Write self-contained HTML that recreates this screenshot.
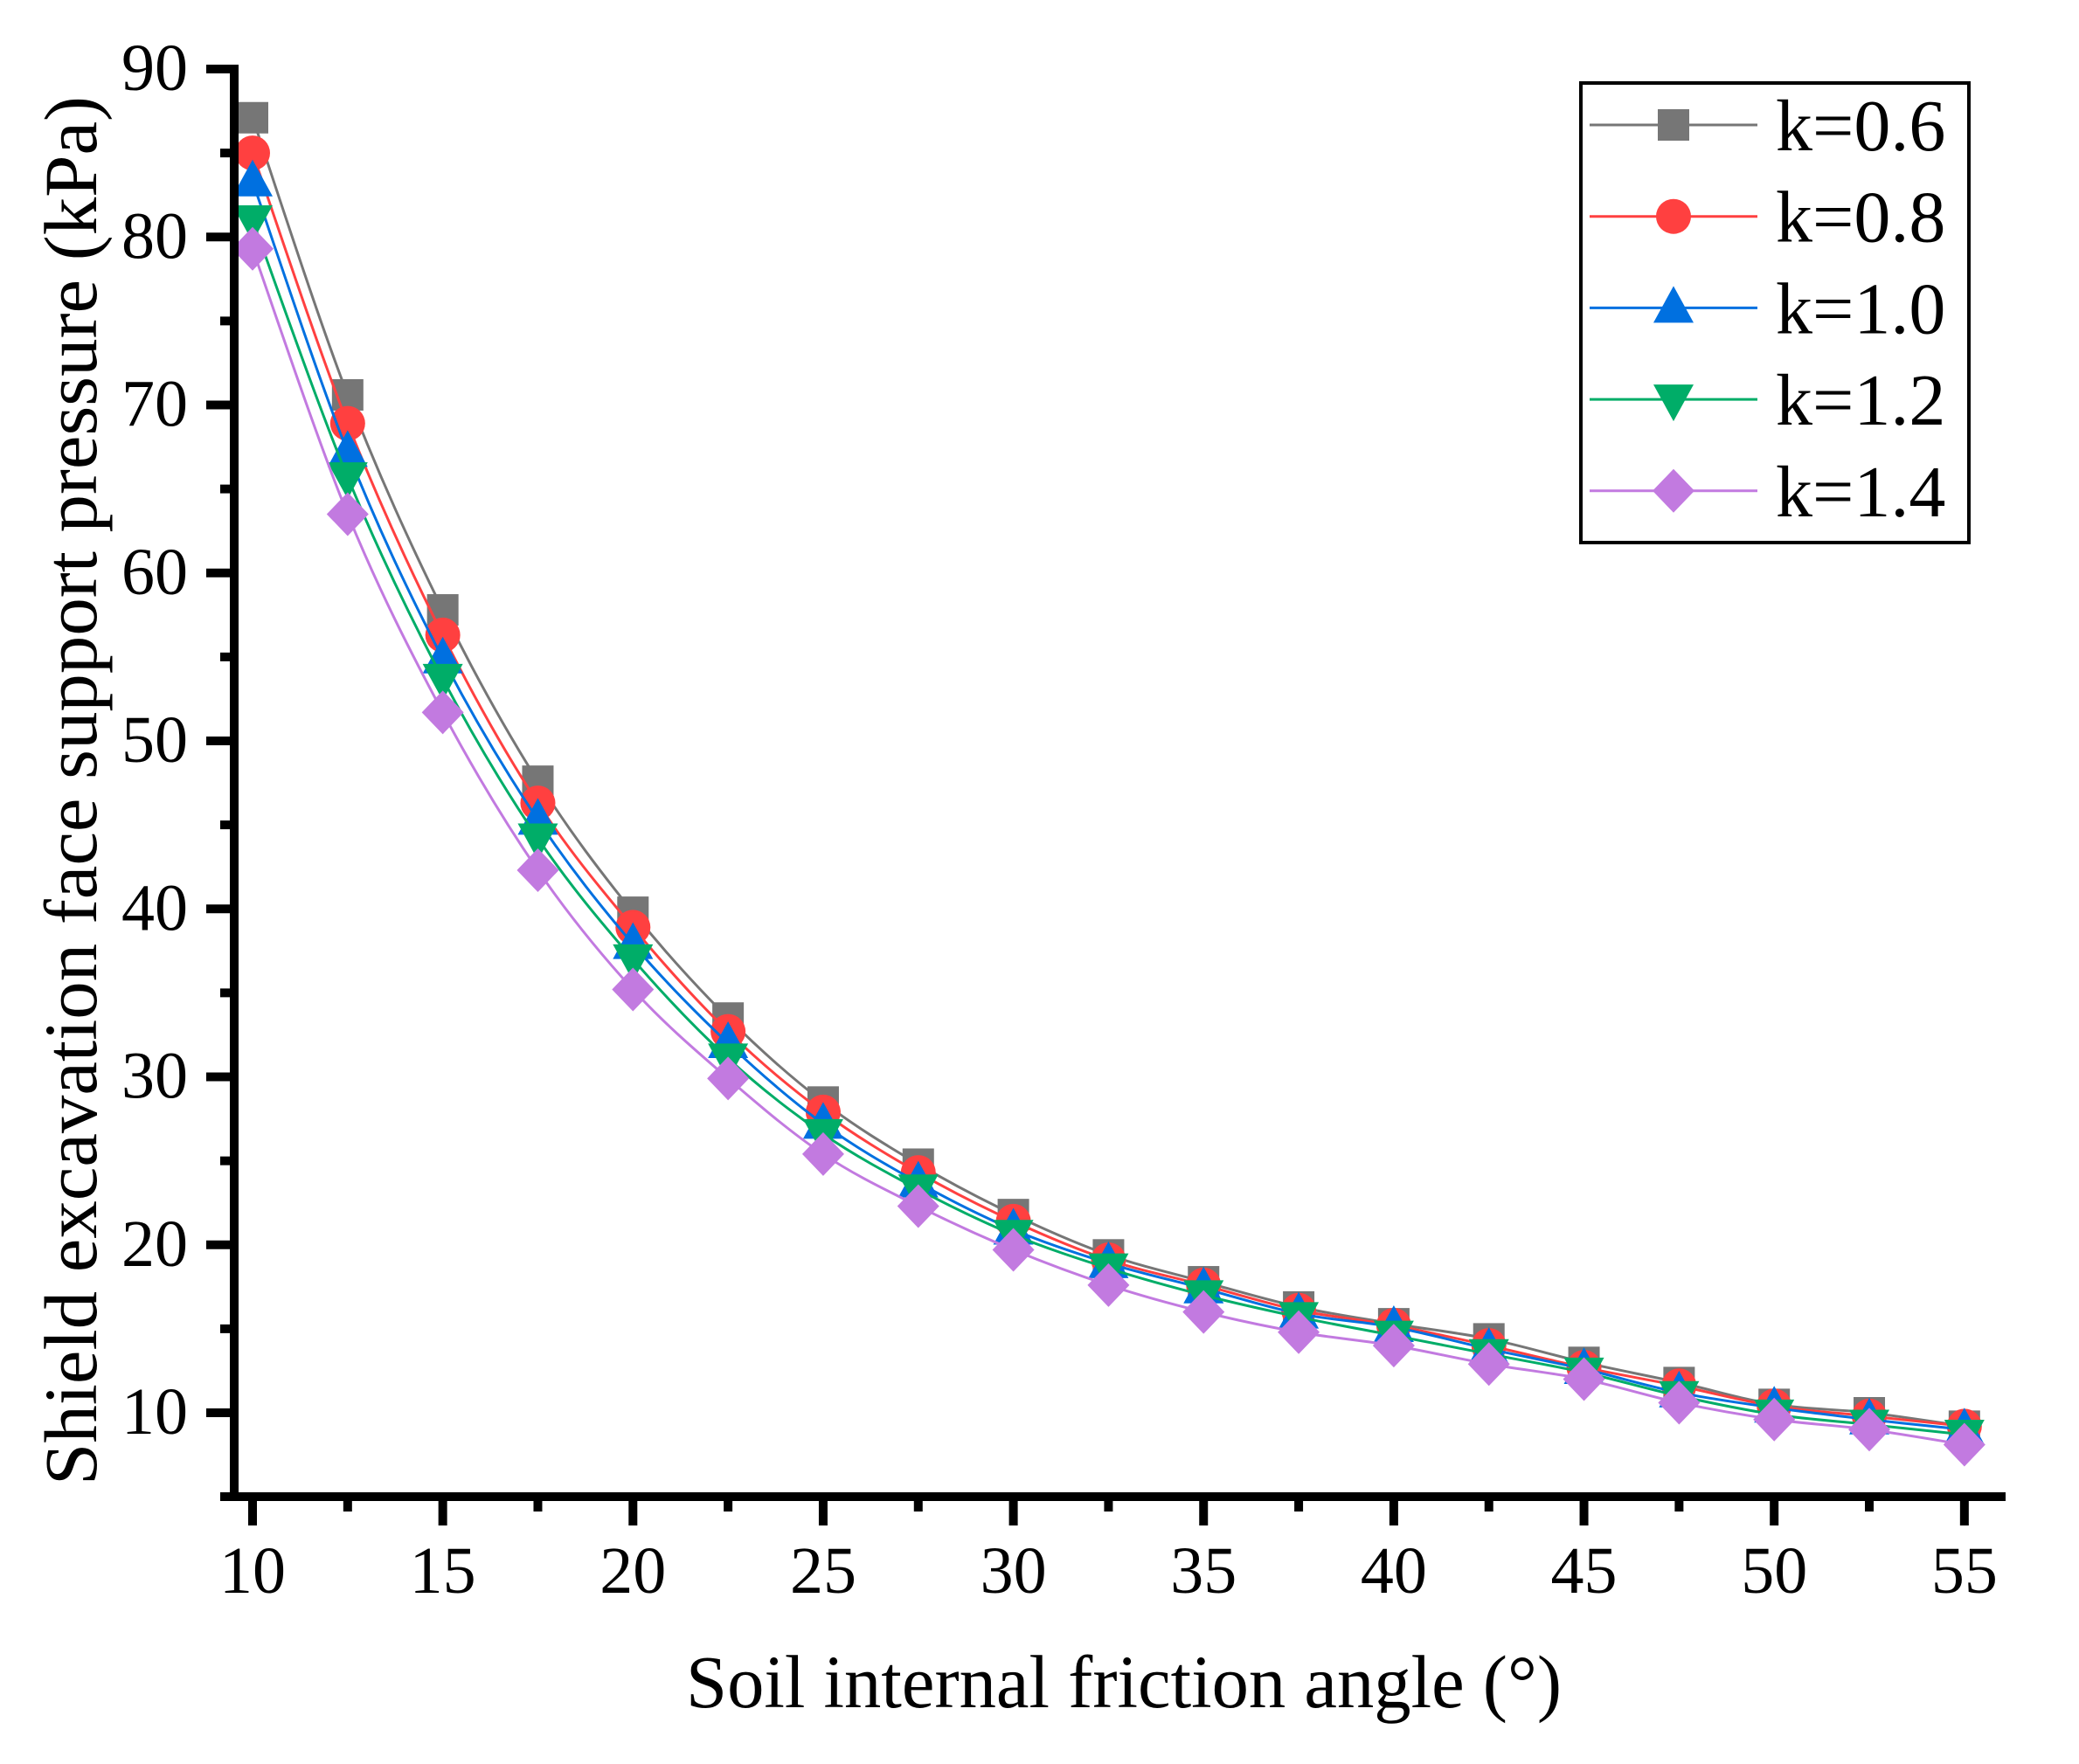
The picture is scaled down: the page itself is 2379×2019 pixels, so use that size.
<!DOCTYPE html>
<html><head><meta charset="utf-8"><style>html,body{margin:0;padding:0;background:#fff}svg{display:block}</style></head>
<body>
<svg id="s" width="2379" height="2019" viewBox="0 0 2379 2019" xmlns="http://www.w3.org/2000/svg" font-family="'Liberation Serif', serif">
<rect width="2379" height="2019" fill="#fff"/>
<g id="plot"></g>
<g id="axes"></g>
<text x="1286" y="1954" font-size="86" text-anchor="middle" textLength="1002" lengthAdjust="spacingAndGlyphs">Soil internal friction angle (°)</text>
<text transform="translate(110,905) rotate(-90)" font-size="86" text-anchor="middle" textLength="1590" lengthAdjust="spacingAndGlyphs">Shield excavation face support pressure (kPa)</text>
<rect x="1809" y="95" width="444" height="526" fill="#fff" stroke="#000" stroke-width="4"/>
<g id="legend"></g>
</svg>
<script>
var NS="http://www.w3.org/2000/svg";
function X(v){return 289+(v-10)*43.53;}
function Y(v){return 79+(90-v)*19.225;}
function el(p,t,a){var e=document.createElementNS(NS,t);for(var k in a)e.setAttribute(k,a[k]);p.appendChild(e);return e;}
var xs=[];for(var i=0;i<19;i++)xs.push(10+2.5*i);
var S=[
{c:"#767676",m:"sq",d:[87.1,70.6,57.8,47.6,39.8,33.5,28.5,24.8,21.8,19.4,17.8,16.3,15.3,14.4,13.0,11.8,10.5,10.0,9.2]},
{c:"#ff4040",m:"ci",d:[85.0,68.9,56.3,46.3,38.9,32.7,27.9,24.3,21.4,19.1,17.6,16.1,15.2,14.0,12.7,11.6,10.4,9.8,9.2]},
{c:"#0070e0",m:"tu",d:[83.3,67.2,54.9,45.3,37.9,32.0,27.2,23.7,20.9,18.9,17.4,15.9,15.1,13.8,12.6,11.2,10.3,9.6,9.0]},
{c:"#00ad68",m:"td",d:[81.0,65.7,53.7,44.2,37.0,31.1,26.6,23.3,20.6,18.6,17.0,15.7,14.6,13.5,12.4,11.0,9.9,9.3,8.7]},
{c:"#c27ae0",m:"di",d:[79.3,63.5,51.7,42.3,35.2,29.9,25.4,22.3,19.7,17.6,16.0,14.8,14.0,12.9,12.0,10.6,9.6,9.0,8.1]}];
function marker(g,m,x,y,c){
 if(m=="sq")el(g,"rect",{x:x-18,y:y-18,width:36,height:36,fill:c});
 else if(m=="ci")el(g,"circle",{cx:x,cy:y,r:20,fill:c});
 else if(m=="tu")el(g,"polygon",{points:(x)+","+(y-25)+" "+(x-23)+","+(y+17)+" "+(x+23)+","+(y+17),fill:c});
 else if(m=="td")el(g,"polygon",{points:(x)+","+(y+25)+" "+(x-23)+","+(y-17)+" "+(x+23)+","+(y-17),fill:c});
 else el(g,"polygon",{points:x+","+(y-25)+" "+(x+24)+","+y+" "+x+","+(y+25)+" "+(x-24)+","+y,fill:c});
}
var plot=document.getElementById("plot");
S.forEach(function(s){
 var P=xs.map(function(v,i){return [X(v),Y(s.d[i])];});
 var d="M"+P[0][0]+","+P[0][1];
 for(var i=0;i<P.length-1;i++){
  var p0=P[Math.max(0,i-1)],p1=P[i],p2=P[i+1],p3=P[Math.min(P.length-1,i+2)];
  var c1=[p1[0]+(p2[0]-p0[0])/6,p1[1]+(p2[1]-p0[1])/6],c2=[p2[0]-(p3[0]-p1[0])/6,p2[1]-(p3[1]-p1[1])/6];
  d+=" C"+c1[0]+","+c1[1]+" "+c2[0]+","+c2[1]+" "+p2[0]+","+p2[1];
 }
 el(plot,"path",{d:d,fill:"none",stroke:s.c,"stroke-width":3});
 P.forEach(function(p){marker(plot,s.m,p[0],p[1],s.c);});
});
var ax=document.getElementById("axes");
el(ax,"line",{x1:268,y1:74,x2:268,y2:1718,stroke:"#000","stroke-width":10});
el(ax,"line",{x1:252,y1:1713,x2:2295,y2:1713,stroke:"#000","stroke-width":10});
for(var v=10;v<=90;v+=5){var y=Y(v);var maj=(v%10==0);
 el(ax,"line",{x1:maj?236:252,y1:y,x2:268,y2:y,stroke:"#000","stroke-width":10});
 if(maj){var t=el(ax,"text",{x:215,y:y+24,"font-size":76,"text-anchor":"end"});t.textContent=v;}}
for(var v=10;v<=55;v+=2.5){var x=X(v);var maj=(v%5==0);
 el(ax,"line",{x1:x,y1:1713,x2:x,y2:maj?1746:1730,stroke:"#000","stroke-width":10});
 if(maj){var t=el(ax,"text",{x:x,y:1823,"font-size":76,"text-anchor":"middle"});t.textContent=v;}}
var lg=document.getElementById("legend");
var labs=["k=0.6","k=0.8","k=1.0","k=1.2","k=1.4"];
S.forEach(function(s,i){var y=143+i*104.7;
 el(lg,"line",{x1:1819,y1:y,x2:2011,y2:y,stroke:s.c,"stroke-width":3});
 marker(lg,s.m,1915,y,s.c);
 var t=el(lg,"text",{x:2032,y:y+29,"font-size":84});t.textContent=labs[i];});
</script>
</body></html>
